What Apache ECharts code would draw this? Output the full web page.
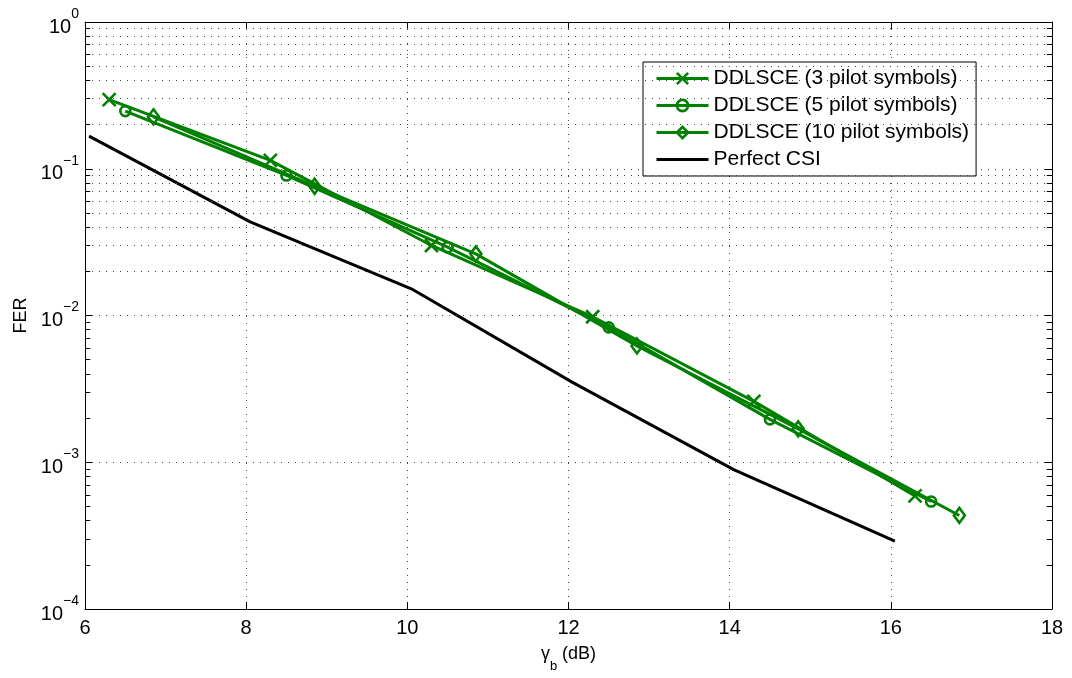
<!DOCTYPE html>
<html>
<head>
<meta charset="utf-8">
<script src="https://cdn.jsdelivr.net/npm/echarts@6/dist/echarts.min.js"></script>
<style>
  html, body { margin: 0; padding: 0; background: #fff; }
  #chart { width: 1072px; height: 678px; }
</style>
</head>
<body>
<div id="chart"></div>
<script>
// Frame error rate versus SNR per bit for the DDLSCE estimator
const seriesNames = [
  'DDLSCE (3 pilot symbols)',
  'DDLSCE (5 pilot symbols)',
  'DDLSCE (10 pilot symbols)',
  'Perfect CSI'
];
const pilot3Snr = [6.3, 8.3, 10.3, 12.3, 14.3, 16.3];
const pilot3Fer = [0.296, 0.114, 0.0300, 0.0098, 0.0026, 0.00059];
const pilot5Snr = [6.5, 8.5, 10.5, 12.5, 14.5, 16.5];
const pilot5Fer = [0.247, 0.090, 0.0292, 0.0083, 0.00196, 0.00054];
const pilot10Snr = [6.85, 8.85, 10.85, 12.85, 14.85, 16.85];
const pilot10Fer = [0.226, 0.076, 0.0263, 0.0062, 0.00169, 0.000434];
const csiSnr = [6.05, 8.05, 10.05, 12.05, 14.05, 16.05];
const csiFer = [0.167, 0.0434, 0.0152, 0.0035, 0.00089, 0.00029];

const xTicks = [6, 8, 10, 12, 14, 16, 18];
const yDecades = [-4, -3, -2, -1, 0];
const minorMantissas = [2, 3, 4, 5, 6, 7, 8, 9];

const FONT = 'Arial, "Liberation Sans", Helvetica, sans-serif';
const GREEN = '#008000';
const GRID_DOTS = { color: '#444', width: 1, type: [1, 6] };
const X_MIN = xTicks[0];
const X_MAX = xTicks[xTicks.length - 1];
const MINOR_TICK = 0.065; // minor tick length along x, in dB

// minor log levels between the decades
const minorLevels = [];
yDecades.slice(0, -1).forEach(d => minorMantissas.forEach(m => minorLevels.push(m * Math.pow(10, d))));

const pairs = (xs, ys) => xs.map((x, i) => [x, ys[i]]);

function estimatorSeries(name, xs, ys, symbol, size) {
  return {
    name, type: 'line', data: pairs(xs, ys),
    symbol, symbolSize: size, showAllSymbol: true,
    lineStyle: { color: GREEN, width: 3 },
    itemStyle: { color: 'rgba(255,255,255,0)', borderColor: GREEN, borderWidth: 2.6 },
    emphasis: { disabled: true }, z: 3
  };
}

// inward minor ticks on the left and right edges of the box
const minorTickSegments = [];
minorLevels.forEach(v => {
  minorTickSegments.push([{ coord: [X_MIN, v] }, { coord: [X_MIN + MINOR_TICK, v] }]);
  minorTickSegments.push([{ coord: [X_MAX - MINOR_TICK, v] }, { coord: [X_MAX, v] }]);
});

const chart = echarts.init(document.getElementById('chart'), null, { renderer: 'canvas' });
chart.setOption({
  animation: false,
  backgroundColor: '#fff',
  textStyle: { fontFamily: FONT },
  grid: { left: 85, right: 20, top: 22, bottom: 66 },
  legend: {
    orient: 'vertical', left: 643, top: 62,
    data: [
      seriesNames[0], seriesNames[1], seriesNames[2],
      { name: seriesNames[3], itemStyle: { opacity: 0 } }
    ],
    selectedMode: false,
    itemWidth: 52, itemHeight: 14, itemGap: 6,
    padding: [6, 7, 6, 12],
    lineStyle: { width: 3 },
    itemStyle: { borderWidth: 2.6 },
    backgroundColor: '#fff', borderColor: '#000', borderWidth: 1, borderRadius: 0,
    textStyle: { fontSize: 21, color: '#000', fontFamily: FONT }
  },
  xAxis: [{
    type: 'value', min: X_MIN, max: X_MAX, interval: 2,
    name: '{g|γ}{s|b}{g| (dB)}', nameLocation: 'middle', nameGap: 36,
    nameTextStyle: {
      rich: {
        g: { fontSize: 18, fontFamily: FONT, color: '#000', verticalAlign: 'top', lineHeight: 24 },
        s: { fontSize: 13, fontFamily: FONT, color: '#000', verticalAlign: 'bottom', lineHeight: 24, padding: [0, 0, -4, 0] }
      }
    },
    axisLine: { lineStyle: { color: '#000', width: 1 } },
    axisTick: { inside: true, length: 7, lineStyle: { color: '#000' } },
    axisLabel: { fontSize: 20, color: '#000', margin: 9, fontFamily: FONT },
    splitLine: { show: true, lineStyle: GRID_DOTS }
  }, {
    type: 'value', position: 'top', min: X_MIN, max: X_MAX, interval: 2,
    axisLine: { show: true, lineStyle: { color: '#000', width: 1 } },
    axisTick: { inside: true, length: 7, lineStyle: { color: '#000' } },
    axisLabel: { show: false }, splitLine: { show: false }
  }],
  yAxis: [{
    type: 'log', logBase: 10, min: 1e-4, max: 1,
    name: 'FER', nameLocation: 'middle', nameGap: 54,
    nameTextStyle: { fontSize: 18, color: '#000', fontFamily: FONT },
    axisLine: { lineStyle: { color: '#000', width: 1 } },
    axisTick: { inside: true, length: 7, lineStyle: { color: '#000' } },
    axisLabel: {
      margin: 6, color: '#000',
      formatter: v => '{m|10}{e|' + String(Math.round(Math.log10(v))).replace('-', '−') + '}',
      rich: {
        m: { fontSize: 20, fontFamily: FONT, color: '#000', verticalAlign: 'bottom', lineHeight: 30 },
        e: { fontSize: 14, fontFamily: FONT, color: '#000', verticalAlign: 'top', lineHeight: 30 }
      }
    },
    splitLine: { show: true, lineStyle: GRID_DOTS }
  }, {
    type: 'log', logBase: 10, min: 1e-4, max: 1, position: 'right',
    axisLine: { show: true, lineStyle: { color: '#000', width: 1 } },
    axisTick: { inside: true, length: 7, lineStyle: { color: '#000' } },
    axisLabel: { show: false }, splitLine: { show: false }
  }],
  series: [
    {
      name: 'grid', type: 'line', data: [], silent: true, z: 1,
      markLine: {
        silent: true, symbol: 'none', label: { show: false },
        lineStyle: GRID_DOTS, emphasis: { disabled: true },
        data: minorLevels.map(v => ({ yAxis: v }))
      }
    },
    {
      name: 'minor ticks', type: 'line', data: [], silent: true, z: 2,
      markLine: {
        silent: true, symbol: 'none', label: { show: false },
        lineStyle: { color: '#000', width: 1, type: 'solid' }, emphasis: { disabled: true },
        data: minorTickSegments
      }
    },
    estimatorSeries(seriesNames[0], pilot3Snr, pilot3Fer, 'path://M0,0L10,10M10,0L0,10', 13),
    estimatorSeries(seriesNames[1], pilot5Snr, pilot5Fer, 'circle', 10),
    estimatorSeries(seriesNames[2], pilot10Snr, pilot10Fer, 'diamond', [11, 15]),
    {
      name: seriesNames[3], type: 'line', data: pairs(csiSnr, csiFer),
      symbol: 'none', lineStyle: { color: '#000', width: 3 },
      itemStyle: { color: '#000' }, emphasis: { disabled: true }, z: 4
    }
  ]
});
</script>
</body>
</html>
